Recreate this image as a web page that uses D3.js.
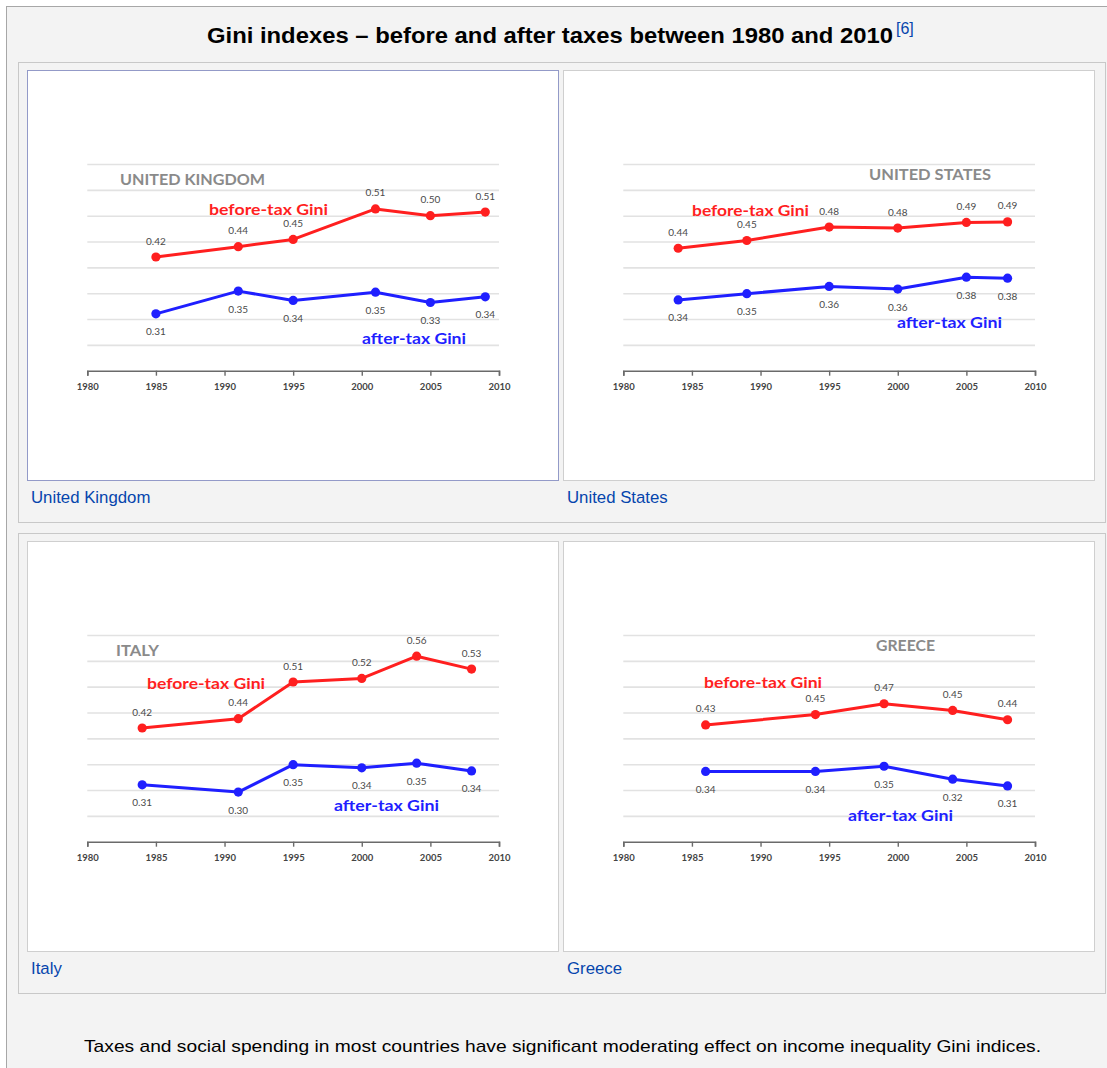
<!DOCTYPE html>
<html>
<head>
<meta charset="utf-8">
<script src="https://cdn.jsdelivr.net/npm/d3@7/dist/d3.min.js"></script>
<style>
  html, body { margin: 0; padding: 0; background: #ffffff; }
  svg { display: block; }
</style>
</head>
<body>
<svg id="chart" width="1107" height="1068"></svg>
<script>
// ---------------- DATA ----------------
const chartTitle = "Gini indexes \u2013 before and after taxes between 1980 and 2010";
const chartRef = "[6]";
const footerText = "Taxes and social spending in most countries have significant moderating effect on income inequality Gini indices.";
const beforeLabel = "before-tax Gini";
const afterLabel = "after-tax Gini";

const xTicks = [1980, 1985, 1990, 1995, 2000, 2005, 2010];
const gridValues = [0.25, 0.30, 0.35, 0.40, 0.45, 0.50, 0.55, 0.60];

const ukYears = [1985, 1991, 1995, 2001, 2005, 2009];
const ukBefore = [0.420, 0.440, 0.454, 0.513, 0.500, 0.507];
const ukAfter = [0.310, 0.354, 0.336, 0.352, 0.332, 0.343];
const ukBeforeLabels = ["0.42", "0.44", "0.45", "0.51", "0.50", "0.51"];
const ukAfterLabels = ["0.31", "0.35", "0.34", "0.35", "0.33", "0.34"];

const usYears = [1984, 1989, 1995, 2000, 2005, 2008];
const usBefore = [0.437, 0.452, 0.478, 0.476, 0.487, 0.488];
const usAfter = [0.337, 0.349, 0.363, 0.358, 0.381, 0.379];
const usBeforeLabels = ["0.44", "0.45", "0.48", "0.48", "0.49", "0.49"];
const usAfterLabels = ["0.34", "0.35", "0.36", "0.36", "0.38", "0.38"];

const itYears = [1984, 1991, 1995, 2000, 2004, 2008];
const itBefore = [0.420, 0.438, 0.509, 0.516, 0.559, 0.534];
const itAfter = [0.310, 0.296, 0.349, 0.343, 0.352, 0.337];
const itBeforeLabels = ["0.42", "0.44", "0.51", "0.52", "0.56", "0.53"];
const itAfterLabels = ["0.31", "0.30", "0.35", "0.34", "0.35", "0.34"];

const grYears = [1986, 1994, 1999, 2004, 2008];
const grBefore = [0.426, 0.446, 0.467, 0.454, 0.436];
const grAfter = [0.336, 0.336, 0.346, 0.321, 0.308];
const grBeforeLabels = ["0.43", "0.45", "0.47", "0.45", "0.44"];
const grAfterLabels = ["0.34", "0.34", "0.35", "0.32", "0.31"];

const countryNames = ["UNITED KINGDOM", "UNITED STATES", "ITALY", "GREECE"];
const captions = ["United Kingdom", "United States", "Italy", "Greece"];

// ---------------- LAYOUT ----------------
const panels = [
  { name: countryNames[0], caption: captions[0], years: ukYears, before: ukBefore, after: ukAfter,
    bl: ukBeforeLabels, al: ukAfterLabels, x: 27, y: 70, focus: true,
    title: [93, 238, 109.5], bLab: [182, 301, 139.5], aLab: [335, 439, 268.5] },
  { name: countryNames[1], caption: captions[1], years: usYears, before: usBefore, after: usAfter,
    bl: usBeforeLabels, al: usAfterLabels, x: 563, y: 70, focus: false,
    title: [306, 428, 104], bLab: [129, 246, 140.5], aLab: [334, 439, 252.5] },
  { name: countryNames[2], caption: captions[2], years: itYears, before: itBefore, after: itAfter,
    bl: itBeforeLabels, al: itAfterLabels, x: 27, y: 541, focus: false,
    title: [89, 132, 109], bLab: [120, 238, 142.5], aLab: [307, 412, 264.5] },
  { name: countryNames[3], caption: captions[3], years: grYears, before: grBefore, after: grAfter,
    bl: grBeforeLabels, al: grAfterLabels, x: 563, y: 541, focus: false,
    title: [313, 372, 104], bLab: [141, 259, 141.5], aLab: [285, 390, 274] }
];

const PW = 531, PH = 410;
const plotL = 60.3, plotR = 472, plotT = 94, plotB = 300.7;
const RED = "#ff1f1f", BLUE = "#1f1fff";

const svg = d3.select("#chart");

// outer box
svg.append("rect").attr("x", 6.5).attr("y", 6.5).attr("width", 1110).attr("height", 1070)
  .attr("fill", "#f3f3f3").attr("stroke", "#a7a7a7").attr("stroke-width", 1);

// title
svg.append("text").attr("x", 207).attr("y", 43)
  .attr("font-family", "'Liberation Sans', Arial, sans-serif").attr("font-weight", "bold")
  .attr("font-size", 22).attr("fill", "#000").attr("textLength", 686).attr("lengthAdjust", "spacingAndGlyphs")
  .text(chartTitle);
svg.append("text").attr("x", 896).attr("y", 34)
  .attr("font-family", "'Liberation Sans', Arial, sans-serif")
  .attr("font-size", 16).attr("fill", "#0645ad").text(chartRef);

// row boxes
[62, 533].forEach(ry => {
  svg.append("rect").attr("x", 18.5).attr("y", ry + 0.5).attr("width", 1087).attr("height", 460)
    .attr("fill", "#f3f3f3").attr("stroke", "#c8c8c8").attr("stroke-width", 1);
});

// footer
svg.append("text").attr("x", 84).attr("y", 1052)
  .attr("font-family", "'Liberation Sans', Arial, sans-serif")
  .attr("font-size", 17).attr("fill", "#000").attr("textLength", 957).attr("lengthAdjust", "spacingAndGlyphs")
  .text(footerText);

panels.forEach(p => {
  const g = svg.append("g").attr("transform", `translate(${p.x},${p.y})`);
  g.append("rect").attr("x", 0.5).attr("y", 0.5).attr("width", PW).attr("height", PH)
    .attr("fill", "#fff")
    .attr("stroke", p.focus ? "#2c3a96" : "#cfcfcf")
    .attr("stroke-width", 1)
    .attr("stroke-dasharray", p.focus ? "1,1" : null);

  // caption
  svg.append("text").attr("x", p.x + 4).attr("y", p.y + PH + 23)
    .attr("font-family", "'Liberation Sans', Arial, sans-serif")
    .attr("font-size", 16.8).attr("fill", "#0645ad").text(p.caption);

  const x = d3.scaleLinear().domain([1980, 2010]).range([plotL, plotR]);
  const y = d3.scaleLinear().domain([0.2, 0.6]).range([plotB, plotT]);

  // gridlines
  const grid = g.append("g").attr("transform", `translate(${plotL},0)`)
    .call(d3.axisLeft(y).tickValues(gridValues).tickSize(-(plotR - plotL)).tickFormat(""));
  grid.select(".domain").remove();
  grid.selectAll(".tick line").attr("stroke", "#e2e2e2").attr("stroke-width", 1.6);

  // x axis
  const ax = g.append("g").attr("transform", `translate(0,${plotB})`)
    .call(d3.axisBottom(x).tickValues(xTicks).tickSize(5).tickPadding(8).tickFormat(d3.format("d")));
  ax.select(".domain").attr("stroke", "#6a6a6a").attr("stroke-width", 1.6);
  ax.selectAll(".tick line").attr("stroke", "#6a6a6a").attr("stroke-width", 1.4);
  ax.selectAll(".tick text").attr("font-family", "Lato, 'Open Sans', sans-serif")
    .attr("font-size", 9.5).attr("font-weight", "bold").attr("fill", "#444");

  // country title
  g.append("text").attr("x", p.title[0]).attr("y", p.title[2]).attr("dy", "0.36em")
    .attr("font-family", "Lato, 'Open Sans', sans-serif").attr("font-weight", "bold")
    .attr("font-size", 16).attr("fill", "#8a8a8a")
    .attr("textLength", p.title[1] - p.title[0]).attr("lengthAdjust", "spacingAndGlyphs")
    .text(p.name);

  const line = d3.line().x(d => x(d[0])).y(d => y(d[1]));
  const series = [
    { vals: p.before, labels: p.bl, color: RED, off: -16 },
    { vals: p.after, labels: p.al, color: BLUE, off: 18 }
  ];
  series.forEach(s => {
    const pts = p.years.map((yr, i) => [yr, s.vals[i], s.labels[i]]);
    g.append("path").datum(pts).attr("d", line).attr("fill", "none")
      .attr("stroke", s.color).attr("stroke-width", 3).attr("stroke-linejoin", "round");
    g.selectAll(null).data(pts).enter().append("circle")
      .attr("cx", d => x(d[0])).attr("cy", d => y(d[1])).attr("r", 4.6).attr("fill", s.color);
    g.selectAll(null).data(pts).enter().append("text")
      .attr("x", d => x(d[0])).attr("y", d => y(d[1]) + s.off).attr("dy", "0.35em")
      .attr("text-anchor", "middle")
      .attr("font-family", "Lato, 'Open Sans', sans-serif").attr("font-size", 10)
      .attr("fill", "#4a4a4a").text(d => d[2]);
  });

  // series labels
  g.append("text").attr("x", p.bLab[0]).attr("y", p.bLab[2]).attr("dy", "0.36em")
    .attr("font-family", "Lato, 'Open Sans', sans-serif").attr("font-weight", "bold")
    .attr("font-size", 16).attr("fill", RED)
    .attr("textLength", p.bLab[1] - p.bLab[0]).attr("lengthAdjust", "spacingAndGlyphs")
    .text(beforeLabel);
  g.append("text").attr("x", p.aLab[0]).attr("y", p.aLab[2]).attr("dy", "0.36em")
    .attr("font-family", "Lato, 'Open Sans', sans-serif").attr("font-weight", "bold")
    .attr("font-size", 16).attr("fill", BLUE)
    .attr("textLength", p.aLab[1] - p.aLab[0]).attr("lengthAdjust", "spacingAndGlyphs")
    .text(afterLabel);
});
</script>
</body>
</html>
